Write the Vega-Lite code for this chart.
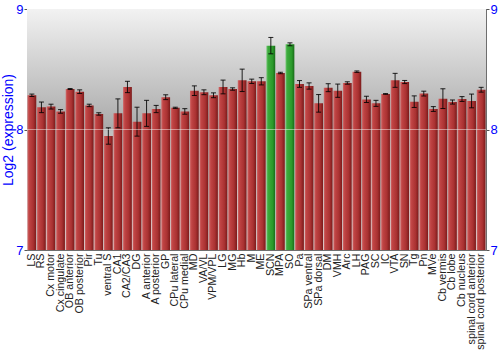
{
  "$schema": "https://vega.github.io/schema/vega-lite/v6.json",
  "width": 459,
  "height": 241,
  "autosize": {"type": "none"},
  "padding": {"left": 27, "top": 9, "right": 14, "bottom": 100},
  "config": {
    "font": "Liberation Sans",
    "view": {"stroke": "#6e6e6e", "strokeWidth": 1},
    "axis": {"labelFont": "Liberation Sans", "titleFont": "Liberation Sans"}
  },
  "data": {
    "values": [
      {"region": "LS", "val": 8.284, "err": 0.01},
      {"region": "RS", "val": 8.184, "err": 0.044},
      {"region": "Cx motor", "val": 8.19, "err": 0.02},
      {"region": "Cx cingulate", "val": 8.15, "err": 0.015},
      {"region": "OB anterior", "val": 8.336, "err": 0.004},
      {"region": "OB posterior", "val": 8.314, "err": 0.015},
      {"region": "Pir", "val": 8.2, "err": 0.01},
      {"region": "Tu", "val": 8.129, "err": 0.01},
      {"region": "ventral S", "val": 7.946, "err": 0.068},
      {"region": "CA1", "val": 8.134, "err": 0.12},
      {"region": "CA2/CA3", "val": 8.353, "err": 0.047},
      {"region": "DG", "val": 8.065, "err": 0.12},
      {"region": "A anterior", "val": 8.134, "err": 0.108},
      {"region": "A posterior", "val": 8.17, "err": 0.03},
      {"region": "GP", "val": 8.268, "err": 0.02},
      {"region": "CPu lateral", "val": 8.18, "err": 0.005},
      {"region": "CPu medial", "val": 8.15, "err": 0.023},
      {"region": "MD", "val": 8.322, "err": 0.04},
      {"region": "VA/VL", "val": 8.309, "err": 0.02},
      {"region": "VPM/VPL", "val": 8.284, "err": 0.02},
      {"region": "LG", "val": 8.353, "err": 0.057},
      {"region": "MG", "val": 8.336, "err": 0.01},
      {"region": "Hb", "val": 8.408, "err": 0.093},
      {"region": "M", "val": 8.4, "err": 0.018},
      {"region": "ME", "val": 8.4, "err": 0.03},
      {"region": "SCN", "val": 8.696, "err": 0.068},
      {"region": "MPA", "val": 8.469, "err": 0.006},
      {"region": "SO", "val": 8.707, "err": 0.012},
      {"region": "Pa", "val": 8.378, "err": 0.028},
      {"region": "SPa ventral", "val": 8.361, "err": 0.026},
      {"region": "SPa dorsal", "val": 8.217, "err": 0.073},
      {"region": "DM", "val": 8.347, "err": 0.033},
      {"region": "VMH", "val": 8.322, "err": 0.055},
      {"region": "Arc", "val": 8.386, "err": 0.01},
      {"region": "LH", "val": 8.48, "err": 0.006},
      {"region": "PAG", "val": 8.25, "err": 0.026},
      {"region": "SC", "val": 8.217, "err": 0.025},
      {"region": "IC", "val": 8.295, "err": 0.003},
      {"region": "VTA", "val": 8.408, "err": 0.058},
      {"region": "SN", "val": 8.394, "err": 0.013},
      {"region": "Tg", "val": 8.231, "err": 0.048},
      {"region": "Pn", "val": 8.298, "err": 0.02},
      {"region": "MVe", "val": 8.17, "err": 0.02},
      {"region": "Cb vermis", "val": 8.256, "err": 0.082},
      {"region": "Cb lobe", "val": 8.228, "err": 0.017},
      {"region": "Cb nucleus", "val": 8.253, "err": 0.02},
      {"region": "spinal cord anterior", "val": 8.237, "err": 0.057},
      {"region": "spinal cord posterior", "val": 8.33, "err": 0.02}
    ]
  },
  "resolve": {"axis": {"y": "independent"}},
  "layer": [
    {
      "data": {"values": [{}]},
      "mark": {
        "type": "rect",
        "color": {"gradient": "linear", "x1": 0, "y1": 0, "x2": 0, "y2": 1,
          "stops": [{"offset": 0, "color": "#f2f2f2"}, {"offset": 0.5, "color": "#a9a9a9"}, {"offset": 0.505, "color": "#c0c0c0"}, {"offset": 1, "color": "#e0e0e0"}]}
      },
      "encoding": {
        "y": {"datum": 9, "type": "quantitative", "scale": {"domain": [7, 9], "zero": false, "nice": false},
          "axis": {"orient": "left", "values": [7, 8, 9], "format": ".0f", "labelOverlap": false, "title": "Log2 (expression)", "titleColor": "#0000ff", "titleFontSize": 14, "titleFontWeight": "normal", "titlePadding": 0, "labelColor": "#0000ff", "labelFontSize": 13, "labelPadding": 1, "tickSize": 3, "tickColor": "#555555", "domainColor": "#6e6e6e", "grid": false}},
        "y2": {"datum": 7}
      }
    },
    {
      "mark": {"type": "bar"},
      "encoding": {
        "x": {"field": "region", "type": "nominal", "sort": null,
          "scale": {"paddingInner": 0.08, "paddingOuter": 0.05},
          "axis": {"title": null, "labelAngle": -90, "labelFontSize": 10.7, "labelColor": "#222222", "labelPadding": 3, "ticks": false, "domain": false}},
        "y": {"field": "val", "type": "quantitative", "axis": null},
        "y2": {"datum": 7},
        "color": {
          "condition": {"test": "datum.region === 'SCN' || datum.region === 'SO'",
            "value": {"gradient": "linear", "x1": 0, "y1": 0, "x2": 1, "y2": 0,
              "stops": [{"offset": 0, "color": "#6cc56c"}, {"offset": 0.2, "color": "#3caa3c"}, {"offset": 0.7, "color": "#2a9a2a"}, {"offset": 1, "color": "#1a6a1a"}]}},
          "value": {"gradient": "linear", "x1": 0, "y1": 0, "x2": 1, "y2": 0,
            "stops": [{"offset": 0, "color": "#d06a6a"}, {"offset": 0.2, "color": "#c04444"}, {"offset": 0.65, "color": "#aa3232"}, {"offset": 1, "color": "#7a1a1a"}]}
        }
      }
    },
    {
      "mark": {"type": "errorbar", "color": "#000000", "opacity": 0.85, "ticks": {"size": 5, "color": "#000000"}},
      "encoding": {
        "x": {"field": "region", "type": "nominal", "sort": null},
        "y": {"field": "val", "type": "quantitative", "axis": null},
        "yError": {"field": "err"}
      }
    },
    {
      "data": {"values": [{}]},
      "mark": {"type": "rule", "color": "#ffffff", "opacity": 0.45, "strokeWidth": 1},
      "encoding": {
        "y": {"datum": 8, "type": "quantitative",
          "axis": {"orient": "right", "values": [7, 8, 9], "format": ".0f", "labelOverlap": false, "title": null, "labelColor": "#0000ff", "labelFontSize": 13, "labelPadding": 1, "tickSize": 3, "tickColor": "#555555", "domainColor": "#6e6e6e", "grid": false}}
      }
    }
  ]
}
